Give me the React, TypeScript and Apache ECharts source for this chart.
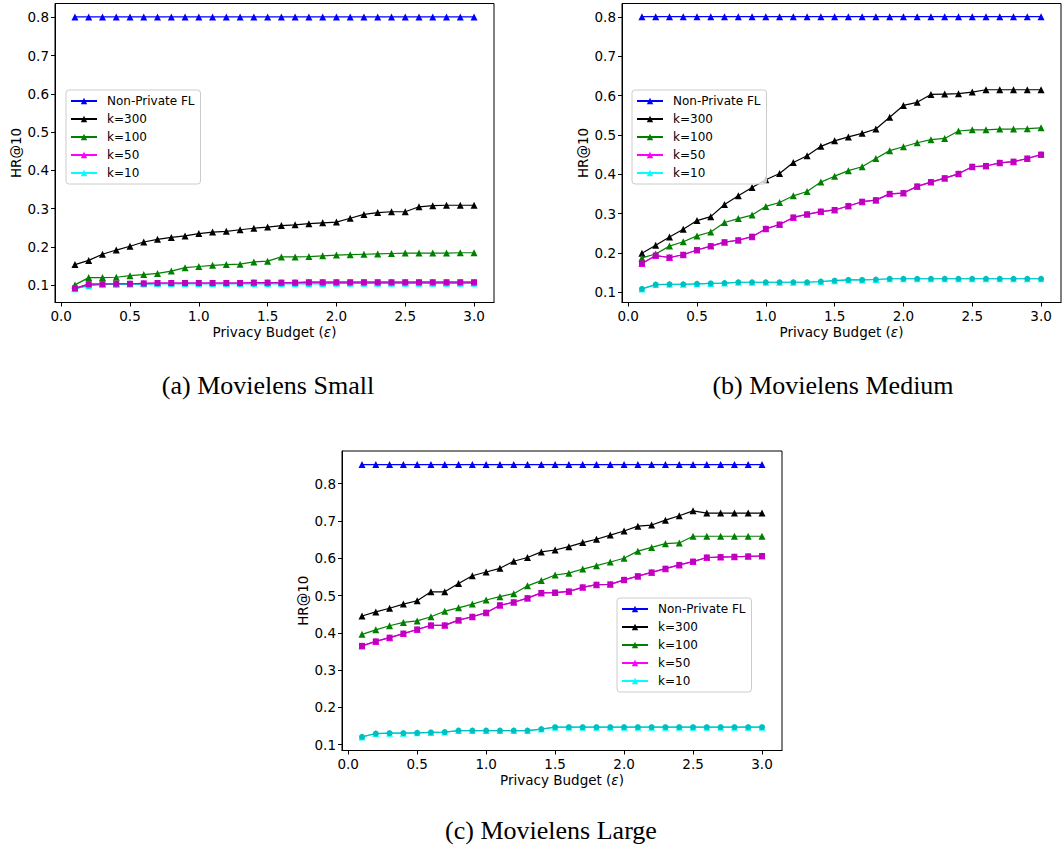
import React, { useEffect, useRef } from 'react';
import * as echarts from 'echarts';

const budgets = [0.1, 0.2, 0.3, 0.4, 0.5, 0.6, 0.7, 0.8, 0.9, 1.0, 1.1, 1.2, 1.3, 1.4, 1.5, 1.6, 1.7, 1.8, 1.9, 2.0, 2.1, 2.2, 2.3, 2.4, 2.5, 2.6, 2.7, 2.8, 2.9, 3.0];
const xTicks = [0, 0.5, 1.0, 1.5, 2.0, 2.5, 3.0];
const yTicks = [0.1, 0.2, 0.3, 0.4, 0.5, 0.6, 0.7, 0.8];
const seriesNames = ['Non-Private FL', 'k=300', 'k=100', 'k=50', 'k=10'];
const captions = ['(a) Movielens Small', '(b) Movielens Medium', '(c) Movielens Large'];

// (a) Movielens Small
const smallNonPrivate = [0.801, 0.801, 0.801, 0.801, 0.801, 0.801, 0.801, 0.801, 0.801, 0.801, 0.801, 0.801, 0.801, 0.801, 0.801, 0.801, 0.801, 0.801, 0.801, 0.801, 0.801, 0.801, 0.801, 0.801, 0.801, 0.801, 0.801, 0.801, 0.801, 0.801];
const smallK300 = [0.154, 0.165, 0.181, 0.192, 0.202, 0.213, 0.220, 0.225, 0.229, 0.235, 0.239, 0.241, 0.245, 0.249, 0.252, 0.256, 0.258, 0.261, 0.263, 0.265, 0.275, 0.285, 0.290, 0.292, 0.292, 0.305, 0.308, 0.309, 0.309, 0.309];
const smallK100 = [0.101, 0.120, 0.120, 0.121, 0.125, 0.128, 0.131, 0.137, 0.146, 0.149, 0.152, 0.154, 0.155, 0.161, 0.163, 0.174, 0.174, 0.175, 0.177, 0.179, 0.180, 0.181, 0.182, 0.183, 0.184, 0.184, 0.184, 0.184, 0.185, 0.185];
const smallK50 = [0.092, 0.103, 0.103, 0.104, 0.104, 0.105, 0.106, 0.106, 0.106, 0.106, 0.106, 0.106, 0.106, 0.107, 0.107, 0.107, 0.107, 0.108, 0.108, 0.108, 0.108, 0.108, 0.108, 0.108, 0.108, 0.108, 0.108, 0.108, 0.108, 0.108];
const smallK10 = [0.091, 0.099, 0.102, 0.102, 0.103, 0.103, 0.104, 0.104, 0.104, 0.104, 0.104, 0.104, 0.104, 0.104, 0.104, 0.104, 0.104, 0.104, 0.104, 0.105, 0.105, 0.105, 0.105, 0.105, 0.105, 0.105, 0.105, 0.105, 0.105, 0.105];

// (b) Movielens Medium
const mediumNonPrivate = [0.801, 0.801, 0.801, 0.801, 0.801, 0.801, 0.801, 0.801, 0.801, 0.801, 0.801, 0.801, 0.801, 0.801, 0.801, 0.801, 0.801, 0.801, 0.801, 0.801, 0.801, 0.801, 0.801, 0.801, 0.801, 0.801, 0.801, 0.801, 0.801, 0.801];
const mediumK300 = [0.199, 0.219, 0.240, 0.260, 0.282, 0.292, 0.323, 0.345, 0.366, 0.386, 0.402, 0.430, 0.447, 0.471, 0.485, 0.495, 0.504, 0.515, 0.545, 0.575, 0.583, 0.603, 0.604, 0.605, 0.609, 0.615, 0.615, 0.615, 0.615, 0.615];
const mediumK100 = [0.187, 0.197, 0.217, 0.228, 0.243, 0.253, 0.277, 0.287, 0.296, 0.318, 0.328, 0.345, 0.356, 0.380, 0.395, 0.409, 0.419, 0.440, 0.460, 0.470, 0.480, 0.488, 0.491, 0.510, 0.513, 0.513, 0.515, 0.515, 0.516, 0.518];
const mediumK50 = [0.173, 0.193, 0.188, 0.195, 0.207, 0.217, 0.227, 0.232, 0.241, 0.261, 0.272, 0.290, 0.298, 0.305, 0.309, 0.319, 0.330, 0.334, 0.350, 0.352, 0.369, 0.380, 0.390, 0.401, 0.419, 0.421, 0.429, 0.432, 0.440, 0.450];
const mediumK10 = [0.108, 0.119, 0.120, 0.120, 0.121, 0.122, 0.123, 0.125, 0.125, 0.125, 0.125, 0.125, 0.125, 0.127, 0.129, 0.131, 0.131, 0.132, 0.134, 0.134, 0.134, 0.134, 0.134, 0.134, 0.134, 0.134, 0.134, 0.134, 0.134, 0.134];

// (c) Movielens Large
const largeNonPrivate = [0.851, 0.851, 0.851, 0.851, 0.851, 0.851, 0.851, 0.851, 0.851, 0.851, 0.851, 0.851, 0.851, 0.851, 0.851, 0.851, 0.851, 0.851, 0.851, 0.851, 0.851, 0.851, 0.851, 0.851, 0.851, 0.851, 0.851, 0.851, 0.851, 0.851];
const largeK300 = [0.445, 0.456, 0.466, 0.477, 0.486, 0.510, 0.510, 0.532, 0.553, 0.563, 0.573, 0.592, 0.602, 0.617, 0.622, 0.631, 0.642, 0.651, 0.662, 0.673, 0.686, 0.689, 0.702, 0.714, 0.727, 0.721, 0.721, 0.721, 0.721, 0.721];
const largeK100 = [0.396, 0.408, 0.419, 0.428, 0.432, 0.443, 0.458, 0.467, 0.477, 0.488, 0.497, 0.505, 0.526, 0.540, 0.555, 0.560, 0.571, 0.580, 0.590, 0.600, 0.619, 0.629, 0.639, 0.641, 0.659, 0.659, 0.659, 0.659, 0.659, 0.659];
const largeK50 = [0.365, 0.377, 0.387, 0.398, 0.409, 0.420, 0.420, 0.434, 0.443, 0.454, 0.474, 0.482, 0.493, 0.507, 0.508, 0.511, 0.522, 0.529, 0.530, 0.542, 0.552, 0.562, 0.572, 0.582, 0.591, 0.602, 0.603, 0.604, 0.605, 0.606];
const largeK10 = [0.121, 0.130, 0.131, 0.131, 0.132, 0.133, 0.134, 0.138, 0.138, 0.138, 0.138, 0.138, 0.138, 0.142, 0.147, 0.147, 0.147, 0.147, 0.147, 0.147, 0.147, 0.147, 0.147, 0.147, 0.147, 0.147, 0.147, 0.147, 0.147, 0.147];

const FONT = 'DejaVu Sans';

const grids = [
  { left: 55, top: 3.5, width: 439, height: 299 },
  { left: 622, top: 3.5, width: 439, height: 299 },
  { left: 342, top: 451, width: 440, height: 299.5 },
];
const yRanges = [
  [0.055, 0.836],
  [0.0735, 0.8345],
  [0.0845, 0.8875],
];
const legendPos = [
  { left: 66, top: 90 },
  { left: 632, top: 90 },
  { left: 617, top: 598 },
];
const captionPos = [
  { x: 268, y: 385 },
  { x: 833, y: 385 },
  { x: 551, y: 830 },
];

function pts(vals: number[]) {
  return budgets.map((b, i) => [b, vals[i]]);
}

function panelSeries(idx: number, np: number[], k300: number[], k100: number[], k50: number[], k10: number[]) {
  const base = { type: 'line', xAxisIndex: idx, yAxisIndex: idx, silent: true, showAllSymbol: true };
  const lw = 1.2;
  return [
    { ...base, name: seriesNames[0], data: pts(np), symbol: 'triangle', symbolSize: 7, color: '#0000ff', lineStyle: { width: lw } },
    { ...base, name: seriesNames[1], data: pts(k300), symbol: 'triangle', symbolSize: 7, color: '#000000', lineStyle: { width: lw } },
    { ...base, name: seriesNames[2], data: pts(k100), symbol: 'triangle', symbolSize: 7, color: '#008000', lineStyle: { width: lw } },
    { ...base, name: seriesNames[3], data: pts(k50), symbol: 'triangle', symbolSize: 7, color: '#ff00ff', lineStyle: { width: lw } },
    { ...base, name: seriesNames[4], data: pts(k10), symbol: 'triangle', symbolSize: 7, color: '#00ffff', lineStyle: { width: lw } },
    { ...base, data: pts(k10), symbol: 'circle', symbolSize: 6, color: '#00bfbf', lineStyle: { width: lw } },
    { ...base, data: pts(k50), symbol: 'rect', symbolSize: 6, color: '#bf00bf', lineStyle: { width: lw } },
  ];
}

export default function App() {
  const ref = useRef<HTMLDivElement>(null);
  useEffect(() => {
    if (!ref.current) return;
    const chart = echarts.init(ref.current, undefined, { renderer: 'svg' });
    const axisText = { fontFamily: FONT, fontSize: 13.5, color: '#000' };
    const option: any = {
      animation: false,
      backgroundColor: '#ffffff',
      grid: grids.map((g) => ({
        ...g,
        show: true,
        borderColor: '#000',
        borderWidth: 1,
        backgroundColor: 'transparent',
        containLabel: false,
        outerBoundsMode: 'none',
      })),
      xAxis: grids.map((_, i) => ({
        type: 'value',
        gridIndex: i,
        min: -0.045,
        max: 3.145,
        axisLine: { show: true, onZero: false, lineStyle: { color: '#000', width: 1 } },
        axisTick: { show: true, inside: false, length: 4, customValues: xTicks, lineStyle: { color: '#000', width: 1 } },
        axisLabel: { ...axisText, customValues: xTicks, margin: 6, formatter: (v: number) => v.toFixed(1) },
        splitLine: { show: false },
        name: 'Privacy Budget ({e|ε})',
        nameLocation: 'middle',
        nameGap: 22,
        nameTextStyle: { ...axisText, rich: { e: { ...axisText, fontStyle: 'italic' } } },
      })),
      yAxis: grids.map((_, i) => ({
        type: 'value',
        gridIndex: i,
        min: yRanges[i][0],
        max: yRanges[i][1],
        axisLine: { show: true, onZero: false, lineStyle: { color: '#000', width: 1 } },
        axisTick: { show: true, inside: false, length: 4, customValues: yTicks, lineStyle: { color: '#000', width: 1 } },
        axisLabel: { ...axisText, customValues: yTicks, margin: 6, formatter: (v: number) => v.toFixed(1) },
        splitLine: { show: false },
        name: 'HR@10',
        nameLocation: 'middle',
        nameGap: 32,
        nameTextStyle: { ...axisText },
      })),
      legend: legendPos.map((p) => ({
        ...p,
        data: seriesNames,
        orient: 'vertical',
        itemWidth: 26,
        itemHeight: 8,
        itemGap: 6,
        padding: [5, 6, 5, 4],
        borderColor: '#cccccc',
        borderWidth: 1,
        borderRadius: 3,
        backgroundColor: 'rgba(255,255,255,0.8)',
        selectedMode: false,
        textStyle: { fontFamily: FONT, fontSize: 12, color: '#000', padding: [0, 0, 0, 5] },
      })),
      series: [
        ...panelSeries(0, smallNonPrivate, smallK300, smallK100, smallK50, smallK10),
        ...panelSeries(1, mediumNonPrivate, mediumK300, mediumK100, mediumK50, mediumK10),
        ...panelSeries(2, largeNonPrivate, largeK300, largeK100, largeK50, largeK10),
      ],
      graphic: captions.map((c, i) => ({
        type: 'text',
        x: captionPos[i].x,
        y: captionPos[i].y,
        style: {
          text: c,
          fontFamily: 'Liberation Serif',
          fontSize: 26,
          fill: '#000',
          align: 'center',
          verticalAlign: 'middle',
        },
      })),
    };
    chart.setOption(option);
    return () => chart.dispose();
  }, []);
  return <div ref={ref} style={{ position: 'absolute', left: 0, top: 0, width: 1064, height: 847 }} />;
}
